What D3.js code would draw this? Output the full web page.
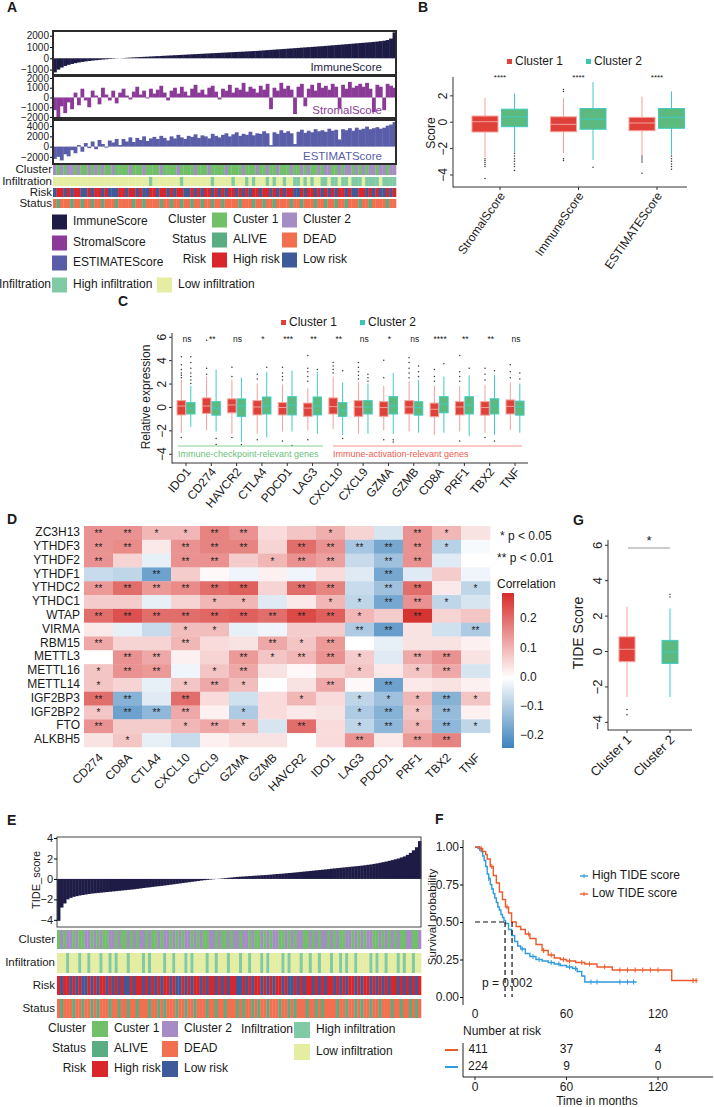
<!DOCTYPE html>
<html>
<head>
<meta charset="utf-8">
<script src="https://cdn.jsdelivr.net/npm/d3@7"></script>
<style>
  body { margin: 0; background: #fff; }
  svg text { font-family: "Liberation Sans", Arial, sans-serif; }
</style>
</head>
<body>
<svg id="fig" width="714" height="1107"></svg>
<script>
// ---------- A: samples ordered by ImmuneScore ----------
var immuneScore = [-1250,-1000,-820,-680,-580,-500,-430,-370,-320,-275,
  -235,-200,-168,-138,-110,-84,-60,-37,-15,5, 25,44,62,80,97,114,130,146,162,178,
  194,210,226,242,258,274,290,306,322,338, 354,370,386,402,418,434,450,466,482,498,
  514,530,546,562,578,594,610,626,642,658, 680,702,724,746,768,790,812,834,856,878,
  900,922,944,966,988,1010,1032,1054,1076,1100, 1125,1150,1175,1200,1225,1250,1275,1300,1325,1350,
  1375,1400,1425,1455,1485,1520,1560,1620,1750,2300];
var stromalScore = [-1300,-2000,-900,-1600,-500,-1200,500,-800,900,-300,
  -1000,700,200,-700,1000,300,-300,700,-600,500, 900,200,-200,600,1100,300,700,-100,900,400,
  800,1200,500,-300,700,1000,400,1100,600,200, 900,1300,500,800,300,1000,1200,600,-200,900,
  700,1300,500,1000,800,1500,600,1100,900,500, 1200,800,1400,-1200,1000,700,1500,900,1200,800,
  -1700,1100,1400,-900,900,1300,700,1500,1000,1200, 800,1400,1100,-1100,1300,900,1600,1000,1200,1400,
  1100,1500,900,-1500,1300,1100,-1300,1400,1200,1000];
var estimateScore = [-2400,-2000,-2700,-1500,-1900,-700,-1300,300,-1000,700,
  -300,1000,-500,1300,500,-200,1200,800,1500,300, 1500,1000,1800,900,1700,1300,2000,1100,1600,1900,
  1500,2100,1700,1200,2000,1600,2300,1800,1500,2100, 1900,2400,1700,2200,2000,1600,2500,2100,1800,2300,
  2600,2000,2400,2800,2100,2500,2300,2900,2200,2600, 2500,3000,2600,300,2800,2500,3200,2700,3000,2600,
  500,2900,3300,2700,3100,2800,3400,3000,3200,2900, 3500,3100,3300,1400,3400,3200,3600,3100,3700,3300,
  3500,3900,3400,3600,3800,3500,3700,4100,4300,4800];
var aCluster = ("21212212112121211211" + "11211121111211112111" + "12111211112111121112" +
  "11211211121121211212" + "21121221212122122122").split('');
var aInfil = ("llllllllllllllllllll" + "llllllllhllllllllhll" + "llllllhlllllhlllhlhl" +
  "llhlhllhllhhlhlhllhh" + "lhhlhhlhhhlhhhhlhhhh").split('');
var aRisk = ("lhhlhlhhllhlhhlhlllh" + "hlhhlhllhhlhhlhlhhll" + "hlhlhhlhlhlhhlhlhlhh" +
  "lhhlhlhlhhllhlhhlhlh" + "lhlhhlhllhhlhlhllhlh").split('');
var aStatus = ("dadddaddaddaddadddad" + "dddaddaddddaddaddadd" + "addaddaddaddddadddad" +
  "daddaddddaddadddadda" + "ddaddadddaddaddddadd").split('');

// ---------- B ----------
var bScores = ["StromalScore", "ImmuneScore", "ESTIMATEScore"];
// [low whisker, q1, median, q3, high whisker]
var bCluster1 = [[-2.67,-0.78,0,0.43,1.8], [-2.4,-0.76,-0.2,0.37,1.8], [-2.5,-0.68,-0.1,0.33,1.9]];
var bCluster2 = [[-2.3,-0.38,0.37,0.95,2.15], [-2.9,-0.57,0.2,1.0,3.0], [-2.5,-0.5,0.33,1.0,2.3]];
var bOut1 = [[-2.8,-2.95,-3.1,-3.25,-3.4,-4.3], [2.3,2.45,-2.8,-2.95], [-2.6,-2.75,-2.9,-3.05,-3.9]];
var bOut2 = [[-2.4,-2.6,-2.8,-3.0,-3.2,-3.4,-3.7], [-3.45], [-2.6,-2.8,-3.0,-3.2,-3.4,-3.6]];
var bSig = ["****", "****", "****"];

// ---------- C ----------
var cGenes = ["IDO1","CD274","HAVCR2","CTLA4","PDCD1","LAG3","CXCL10","CXCL9","GZMA","GZMB","CD8A","PRF1","TBX2","TNF"];
var cCluster1 = [[-2.2,-0.68,0.08,0.54,2.3],[-2.0,-0.55,0.08,0.77,2.6],[-2.3,-0.5,0.17,0.69,2.3],[-2.3,-0.68,0,0.54,2.0],
  [-2.1,-0.68,-0.05,0.37,1.9],[-2.0,-0.8,-0.1,0.33,1.6],[-1.9,-0.6,0.03,0.77,2.6],[-2.3,-0.8,0,0.54,2.1],
  [-2.0,-0.8,-0.05,0.45,1.8],[-2.1,-0.6,0,0.54,2.2],[-2.4,-0.83,-0.2,0.33,1.8],[-2.1,-0.68,0,0.45,1.8],
  [-2.2,-0.7,-0.05,0.45,1.9],[-2.0,-0.6,0.05,0.6,2.1]];
var cCluster2 = [[-1.7,-0.6,-0.1,0.37,1.8],[-2.1,-0.7,-0.1,0.45,3.2],[-3.0,-0.8,0.08,0.69,2.5],[-2.6,-0.6,0.08,0.85,3.0],
  [-2.1,-0.68,0.17,0.88,3.1],[-2.3,-0.68,0.08,0.85,3.0],[-2.4,-0.8,-0.3,0.37,2.1],[-2.3,-0.6,0,0.54,2.0],
  [-2.3,-0.6,0.08,0.88,2.9],[-2.2,-0.7,-0.05,0.45,2.3],[-2.2,-0.5,0.25,0.88,2.6],[-2.5,-0.6,0.17,0.88,2.7],
  [-2.4,-0.6,0.1,0.7,2.7],[-2.2,-0.7,0,0.5,2.0]];
var cOut1 = [[2.5,2.7,2.9,3.2,3.6,4.3,-2.6],[2.8,3.3,5.7],[2.6,3.4,-2.6],[2.4,2.8,-2.8],[2.3,2.6,2.9,3.4,-2.9],
  [2.2,2.6,3.0,3.3,4.4,-2.8],[2.9,3.2,3.5,3.8],[2.4,2.7,3.0,3.4,3.8],[2.5,4.0,-2.8],[2.5,2.9,3.3,3.8,4.2],
  [2.2,2.6,3.2],[2.2,2.6,3.0,4.4,-2.9],[2.3,2.8,3.3,-2.6],[2.5,3.0,3.6]];
var cOut2 = [[2.0,2.3,2.6,2.9,3.3,3.8,4.3],[-2.7,-3.2],[-3.2],[3.4],[-3.3],[3.2],[3.1,-2.7],[2.2,2.5,2.8],
  [-2.8,-3.0],[2.6,3.0,3.5],[3.7],[3.3],[3.1,-2.9],[2.4,2.9]];
var cSig = ["ns","**","ns","*","***","**","**","ns","*","ns","****","**","**","ns"];

// ---------- D ----------
var dRows = ["ZC3H13","YTHDF3","YTHDF2","YTHDF1","YTHDC2","YTHDC1","WTAP","VIRMA","RBM15","METTL3","METTL16","METTL14","IGF2BP3","IGF2BP2","FTO","ALKBH5"];
var dCols = ["CD274","CD8A","CTLA4","CXCL10","CXCL9","GZMA","GZMB","HAVCR2","IDO1","LAG3","PDCD1","PRF1","TBX2","TNF"];
var dCorr = [
  [0.15,0.15,0.1,0.1,0.17,0.15,0.05,0.08,0.11,0.06,-0.05,0.15,0.1,0.04],
  [0.15,0.16,0.03,0.15,0.17,0.17,0.06,0.2,0.15,-0.11,-0.17,0.15,-0.09,-0.01],
  [0.15,0.06,-0.03,0.15,0.15,0.07,0.1,0.15,0.13,-0.07,-0.12,0.15,-0.04,0],
  [-0.07,-0.08,-0.18,0.07,0.01,-0.02,0.02,-0.02,0.05,-0.04,-0.17,-0.04,0.07,-0.02],
  [0.14,0.2,0.14,0.16,0.2,0.22,0.06,0.2,0.17,-0.07,-0.12,0.2,0.03,-0.08],
  [0.07,0.07,-0.03,0.06,0.1,0.1,-0.04,0.03,0.1,-0.08,-0.17,0.15,-0.08,-0.05],
  [0.2,0.24,0.2,0.2,0.21,0.22,0.2,0.25,0.22,0.1,0.07,0.28,0.06,0.08],
  [0.03,-0.03,-0.07,0.09,0.09,-0.03,-0.02,0.07,0.07,-0.1,-0.19,0.04,-0.06,-0.1],
  [0.12,0.06,0.06,0.1,0.05,0.04,0.12,0.08,0.14,0,-0.03,0.04,0.04,0.02],
  [0,0.15,0.12,0.02,0.06,0.14,0.08,0.1,0.15,0.07,-0.04,0.12,0.15,0.04],
  [0.08,0.15,0.14,-0.02,0.08,0.12,0.04,0.01,0.06,0.08,0.03,0.08,0.12,-0.05],
  [0.08,0.06,-0.03,0.08,0.12,0.09,0,0.04,0.12,0.01,-0.18,0.03,0.04,0.02],
  [0.2,-0.15,-0.04,0.2,0.05,-0.06,0.05,0.1,0.05,-0.08,-0.12,0.1,-0.15,0.08],
  [0.08,-0.18,-0.14,0.12,0.02,-0.1,0.05,0.03,0.04,-0.1,-0.15,0.08,-0.13,0.02],
  [0.15,0.07,0.07,0.1,0.12,0.1,-0.05,0.2,0.05,-0.08,-0.14,0.1,-0.14,-0.08],
  [0.04,0.08,-0.03,-0.07,0.02,0.04,0.04,0,0.05,0.15,0.03,0.14,0.17,0]
];
var dStars = [
  ["**","**","*","*","**","**","","","*","","","**","*",""],
  ["**","**","","**","**","**","","**","**","**","**","**","*",""],
  ["**","","","**","**","","*","**","**","","**","**","",""],
  ["","","**","","","","","","","","**","","",""],
  ["**","**","**","**","**","**","","**","**","","**","**","","*"],
  ["","","","","*","*","","","*","*","**","**","*",""],
  ["**","**","**","**","**","**","**","**","**","*","","**","",""],
  ["","","","*","*","","","","","**","**","","","**"],
  ["**","","","**","","","**","*","**","","","","",""],
  ["","**","**","","","**","*","**","**","*","","**","**",""],
  ["*","**","**","","*","**","","","","*","","*","**",""],
  ["*","","","*","**","*","","","**","","**","","",""],
  ["**","**","","**","","","","*","","*","*","*","**","*"],
  ["*","**","**","**","","*","","","","*","**","*","**",""],
  ["**","","","*","**","*","","**","","*","**","*","**","*"],
  ["","*","","","","","","","","**","","**","**",""]
];

// ---------- E: samples ordered by TIDE score ----------
var tideScore = [-4.1,-2.8,-2.4,-2.0,-1.85,-1.75,-1.68,-1.62,-1.57,-1.52,
  -1.47,-1.43,-1.4,-1.37,-1.34,-1.31,-1.28,-1.25,-1.22,-1.19, -1.16,-1.13,-1.1,-1.07,-1.04,-1.01,-0.97,-0.93,-0.89,-0.85,
  -0.82,-0.78,-0.74,-0.71,-0.68,-0.64,-0.6,-0.56,-0.52,-0.48, -0.44,-0.4,-0.36,-0.32,-0.28,-0.24,-0.2,-0.16,-0.12,-0.09,
  -0.06,-0.03,-0.01,0.02,0.05,0.08,0.11,0.14,0.17,0.2, 0.22,0.24,0.26,0.28,0.3,0.32,0.34,0.36,0.38,0.4,
  0.42,0.45,0.48,0.5,0.52,0.55,0.58,0.6,0.63,0.66, 0.69,0.72,0.75,0.78,0.81,0.84,0.87,0.9,0.93,0.96,
  1.0,1.03,1.06,1.09,1.12,1.15,1.18,1.21,1.24,1.27, 1.3,1.34,1.38,1.42,1.47,1.52,1.58,1.64,1.7,1.77,
  1.84,1.92,2.0,2.1,2.2,2.35,2.55,2.8,3.1,3.7];
var eCluster = ("12122121122121211221" + "21121212212112122121" + "21221212112212112122" +
  "12212112121221121212" + "21121212212121122121" + "21221121212121122112").split('');
var eInfil = ("lllhlllhllhlllhllhlh" + "lllhllllhlhllllhllhl" + "llhlhllllhllhlllhlll" +
  "hllhlllhlhllllhlhlll" + "hllhllhlllhllhlhllhl" + "lllhlhllhlllhlhllhll").split('');
var eRisk = ("hlhhlhlhllhlhlhhlhlh" + "lhllhlhhlhlhlhlhhlhl" + "lhlhlhhlhlhhlhlhlhhl" +
  "lhlhlhhlhlhlhhlhllhl" + "hlhhlhlhlhhlhlhlhhlh" + "lhhlhlhlhlhhlhlhlhlh").split('');
var eStatus = ("dadddaddaddadadddadd" + "addaddadddaddadaddda" + "ddaddadddaddaddaddda" +
  "daddadaddadddaddadad" + "ddaddadaddddaddaddad" + "addaddadddaddaddadad").split('');

// ---------- F: Kaplan-Meier ----------
var highTime = [0,2,4,5,6,7,8,9,10,11,12,13,14,15,16,17,18,19,20,22,24,26,28,30,33,36,40,44,48,52,56,60,64,67,70,72,106];
var highSurv = [1,.99,.97,.94,.91,.87,.82,.79,.75,.72,.69,.66,.63,.6,.58,.55,.53,.51,.49,.45,.41,.37,.34,.32,.29,.27,.25,.24,.23,.22,.21,.2,.19,.17,.14,.1,.1];
var highCens = [3,9,31,38,42,50,55,62,66,76,80,95,100,104];
var lowTime = [0,3,5,7,8,10,12,14,16,18,20,22,24,27,30,33,36,40,44,48,52,56,60,66,72,80,90,129,146];
var lowSurv = [1,.99,.97,.95,.92,.87,.81,.76,.7,.65,.6,.56,.5,.47,.45,.42,.39,.35,.31,.28,.26,.25,.24,.23,.22,.2,.18,.11,.11];
var lowCens = [4,11,21,35,45,50,58,62,70,75,85,95,100,105,110,115,120,143,145];
var riskTimes = [0, 60, 120];
var riskLow = [411, 37, 4];
var riskHigh = [224, 9, 0];

// ---------- G ----------
var gGroups = ["Cluster 1", "Cluster 2"];
var gStats = [[-2.6,-0.6,0.1,0.8,2.5], [-2.6,-0.7,-0.05,0.6,2.4]];
var gOut = [[-3.3,-3.6], [3.05,3.2]];

// colours
var clusterCol = {"1": "#72BF6A", "2": "#A68CC4"};
var infilCol = {"h": "#80CBA5", "l": "#E5EDA3"};
var riskCol = {"h": "#D9262A", "l": "#3F5A99"};
var statusCol = {"a": "#5AAD83", "d": "#F2704F"};
var c1Fill = "#E0403A", c1Line = "#F5A09A", c2Fill = "#5CBA7E", c2Line = "#3FCBC3";

var svg = d3.select('#fig');
var intFmt = d3.format('d');

function addText(g, x, y, s, size, o) {
  o = o || {};
  var t = g.append('text')
    .attr('x', x).attr('y', y)
    .attr('font-size', size)
    .attr('fill', o.fill || '#1a1a1a')
    .attr('text-anchor', o.anchor || 'start')
    .attr('dominant-baseline', o.baseline || 'middle')
    .text(s);
  if (o.bold) t.attr('font-weight', 'bold');
  if (o.rotate) t.attr('transform', 'rotate(' + o.rotate + ',' + x + ',' + y + ')');
  return t;
}

function hline(g, x1, x2, y, col, w) {
  return g.append('line').attr('x1', x1).attr('x2', x2).attr('y1', y).attr('y2', y)
    .attr('stroke', col || '#222').attr('stroke-width', w || 1);
}
function vline(g, x, y1, y2, col, w) {
  return g.append('line').attr('x1', x).attr('x2', x).attr('y1', y1).attr('y2', y2)
    .attr('stroke', col || '#222').attr('stroke-width', w || 1);
}

function drawTrack(g, codes, x0, x1, y0, y1, cols) {
  var xs = d3.scaleBand().domain(d3.range(codes.length)).range([x0, x1]);
  g.selectAll(null).data(codes).enter().append('rect')
    .attr('x', function (d, i) { return xs(i); })
    .attr('y', y0)
    .attr('width', xs.bandwidth() + 0.3)
    .attr('height', y1 - y0)
    .attr('fill', function (d) { return cols[d]; });
}

function legendSq(g, x, yc, col, label, size) {
  size = size || 15;
  g.append('rect').attr('x', x).attr('y', yc - size / 2).attr('width', size).attr('height', size).attr('fill', col);
  addText(g, x + size + 6, yc, label, 12);
}

function drawBox(g, y, cx, w, st, outl, fill, line) {
  vline(g, cx, y(st[4]), y(st[0]), line, 1);
  g.append('rect').attr('x', cx - w / 2).attr('y', y(st[3]))
    .attr('width', w).attr('height', y(st[1]) - y(st[3]))
    .attr('fill', fill).attr('stroke', line).attr('stroke-width', 1);
  hline(g, cx - w / 2, cx + w / 2, y(st[2]), line, 1);
  g.selectAll(null).data(outl).enter().append('circle')
    .attr('cx', cx).attr('cy', function (d) { return y(d); })
    .attr('r', 0.75).attr('fill', '#333');
}

function rotatedYAxis(g, x, scale, ticks, size, fmt) {
  var ax = g.append('g').attr('transform', 'translate(' + x + ',0)')
    .call(d3.axisLeft(scale).tickValues(ticks).tickSize(3).tickFormat(fmt || null));
  ax.select('.domain').remove();
  ax.selectAll('line').attr('stroke', '#333');
  ax.selectAll('text').attr('x', null).attr('dy', null)
    .attr('text-anchor', 'middle')
    .attr('transform', 'translate(-6,0) rotate(-90)')
    .attr('font-size', size).attr('fill', '#222');
  return ax;
}

// panel letters
[["A", 7, 12], ["B", 418, 12], ["C", 118, 306], ["D", 7, 524], ["E", 7, 825], ["F", 435, 824], ["G", 573, 525]]
  .forEach(function (l) { addText(svg, l[1], l[2], l[0], 14, {bold: true, baseline: 'auto'}); });

// ================= Panel A =================
var gA = svg.append('g');
var aX = d3.scaleBand().domain(d3.range(immuneScore.length)).range([53, 396]);
var aPanels = [
  {vals: immuneScore, top: 31, bot: 75, dom: [-1480, 2420], ticks: [2000, 1000, 0, -1000], color: '#1E1B46', label: 'ImmuneScore', labY: 68},
  {vals: stromalScore, top: 76, bot: 118, dom: [-2100, 2200], ticks: [2000, 1000, 0, -1000, -2000], color: '#8B3A98', label: 'StromalScore', labY: 111},
  {vals: estimateScore, top: 120, bot: 164, dom: [-3400, 5200], ticks: [4000, 2000, 0, -2000], color: '#5A5DA8', label: 'ESTIMATScore', labY: 157}
];
aPanels.forEach(function (p) {
  var y = d3.scaleLinear().domain(p.dom).range([p.bot, p.top]);
  gA.append('g').selectAll('rect').data(p.vals).enter().append('rect')
    .attr('x', function (d, i) { return aX(i); })
    .attr('width', aX.bandwidth() + 0.4)
    .attr('y', function (d) { return y(Math.max(0, d)); })
    .attr('height', function (d) { return Math.abs(y(d) - y(0)); })
    .attr('fill', p.color);
  gA.append('rect').attr('x', 53).attr('y', p.top).attr('width', 343).attr('height', p.bot - p.top)
    .attr('fill', 'none').attr('stroke', '#2b2b2b').attr('stroke-width', 2);
  var ax = gA.append('g').attr('transform', 'translate(52,0)')
    .call(d3.axisLeft(y).tickValues(p.ticks).tickFormat(intFmt).tickSize(2).tickPadding(1));
  ax.select('.domain').remove();
  ax.selectAll('text').attr('font-size', 10).attr('fill', '#222');
  addText(gA, 382, p.labY, p.label, 11.5, {anchor: 'end', fill: p.color});
});
var aTracks = [
  ["Cluster", aCluster, 165, 175, clusterCol],
  ["Infiltration", aInfil, 177, 186, infilCol],
  ["Risk", aRisk, 188, 197, riskCol],
  ["Status", aStatus, 199, 208, statusCol]
];
aTracks.forEach(function (t) {
  drawTrack(gA, t[1], 53, 396, t[2], t[3], t[4]);
  addText(gA, 52, (t[2] + t[3]) / 2, t[0], 11.5, {anchor: 'end'});
});
legendSq(gA, 52, 222, '#1E1B46', 'ImmuneScore');
legendSq(gA, 52, 243, '#8B3A98', 'StromalScore');
legendSq(gA, 52, 263, '#5A5DA8', 'ESTIMATEScore');
addText(gA, 206, 220, 'Cluster', 12, {anchor: 'end'});
addText(gA, 206, 240, 'Status', 12, {anchor: 'end'});
addText(gA, 206, 260, 'Risk', 12, {anchor: 'end'});
legendSq(gA, 212, 220, clusterCol["1"], 'Custer 1');
legendSq(gA, 282, 220, clusterCol["2"], 'Cluster 2');
legendSq(gA, 212, 240, statusCol.a, 'ALIVE');
legendSq(gA, 282, 240, statusCol.d, 'DEAD');
legendSq(gA, 212, 260, riskCol.h, 'High risk');
legendSq(gA, 282, 260, riskCol.l, 'Low risk');
addText(gA, 51, 285, 'Infiltration', 12, {anchor: 'end'});
legendSq(gA, 52, 285, infilCol.h, 'High infiltration');
legendSq(gA, 157, 285, infilCol.l, 'Low infiltration');

// ================= Panel B =================
var gB = svg.append('g');
var bY = d3.scaleLinear().domain([-4.95, 3.39]).range([187, 77]);
var bX = d3.scalePoint().domain(bScores).range([500, 657]);
vline(gB, 453, 77, 187.5, '#333');
hline(gB, 453, 687, 187, '#333');
rotatedYAxis(gB, 453, bY, [-4, -2, 0, 2], 12);
addText(gB, 432, 133, 'Score', 12, {anchor: 'middle', rotate: -90});
bScores.forEach(function (s, i) {
  var cx = bX(s);
  drawBox(gB, bY, cx - 15, 26, bCluster1[i], bOut1[i], c1Fill, c1Line);
  drawBox(gB, bY, cx + 14.5, 26, bCluster2[i], bOut2[i], c2Fill, c2Line);
  addText(gB, cx, 78, bSig[i], 8, {anchor: 'middle'});
  vline(gB, cx, 187, 190, '#333');
  addText(gB, cx + 3, 194, s, 12, {anchor: 'end', rotate: -55});
});
gB.append('rect').attr('x', 507).attr('y', 59).attr('width', 5).attr('height', 5).attr('fill', c1Fill);
addText(gB, 515, 62, 'Cluster 1', 12);
gB.append('rect').attr('x', 586).attr('y', 59).attr('width', 5).attr('height', 5).attr('fill', '#3EC6B5');
addText(gB, 594, 62, 'Cluster 2', 12);

// ================= Panel C =================
var gC = svg.append('g');
var cY = d3.scaleLinear().domain([-4.79, 6.15]).range([463, 335]);
var cX = d3.scalePoint().domain(cGenes).range([186, 515]);
vline(gC, 172, 333, 463.5, '#333');
hline(gC, 172, 528, 463, '#333');
rotatedYAxis(gC, 172, cY, [-4, -2, 0, 2, 4, 6], 12);
addText(gC, 147, 397, 'Relative expression', 12, {anchor: 'middle', rotate: -90});
cGenes.forEach(function (gname, i) {
  var cx = cX(gname);
  drawBox(gC, cY, cx - 4.7, 8.5, cCluster1[i], cOut1[i], c1Fill, c1Line);
  drawBox(gC, cY, cx + 4.8, 8.5, cCluster2[i], cOut2[i], c2Fill, c2Line);
  addText(gC, cx + 1, 340, cSig[i], 8.5, {anchor: 'middle'});
  vline(gC, cx, 463, 466, '#333');
  addText(gC, cx + 3, 470, gname, 12, {anchor: 'end', rotate: -50});
});
hline(gC, 178, 323, 446, '#86CF92', 1);
addText(gC, 178, 455, 'Immune-checkpoint-relevant genes', 9, {fill: '#6CC27B'});
hline(gC, 333, 522, 446, '#F2958C', 1);
addText(gC, 333, 455, 'Immune-activation-relevant genes', 9, {fill: '#EC5B50'});
gC.append('rect').attr('x', 281).attr('y', 320).attr('width', 5).attr('height', 5).attr('fill', c1Fill);
addText(gC, 289, 323, 'Cluster 1', 12);
gC.append('rect').attr('x', 360).attr('y', 320).attr('width', 5).attr('height', 5).attr('fill', '#3EC6B5');
addText(gC, 368, 323, 'Cluster 2', 12);

// ================= Panel D =================
var gD = svg.append('g');
var dX = d3.scaleBand().domain(dCols).range([84, 490]);
var dY = d3.scaleBand().domain(dRows).range([526, 747]);
var dColor = d3.scaleLinear().domain([-0.24, 0, 0.29]).range(['#3E83BD', '#ffffff', '#D52D2A']);
dRows.forEach(function (r, i) {
  gD.selectAll(null).data(dCorr[i]).enter().append('rect')
    .attr('x', function (d, j) { return dX(dCols[j]); })
    .attr('y', dY(r))
    .attr('width', dX.bandwidth() + 0.3)
    .attr('height', dY.bandwidth() + 0.3)
    .attr('fill', function (d) { return dColor(d); });
  gD.selectAll(null).data(dStars[i]).enter().append('text')
    .attr('x', function (d, j) { return dX(dCols[j]) + dX.bandwidth() / 2; })
    .attr('y', dY(r) + dY.bandwidth() / 2 + 4)
    .attr('text-anchor', 'middle')
    .attr('font-size', 10)
    .attr('fill', '#222')
    .text(function (d) { return d; });
  addText(gD, 80, dY(r) + dY.bandwidth() / 2, r, 12, {anchor: 'end'});
});
dCols.forEach(function (c) {
  addText(gD, dX(c) + dX.bandwidth() / 2 + 3, 756, c, 12, {anchor: 'end', rotate: -45});
});
addText(gD, 500, 537, '* p < 0.05', 12);
addText(gD, 497, 559, '** p < 0.01', 12);
addText(gD, 497, 585, 'Correlation', 12);
var lY = d3.scaleLinear().domain([-0.24, 0.29]).range([748, 593]);
var grad = svg.append('defs').append('linearGradient').attr('id', 'corrGrad')
  .attr('x1', 0).attr('x2', 0).attr('y1', 1).attr('y2', 0);
[-0.24, 0, 0.29].forEach(function (v) {
  grad.append('stop').attr('offset', (v + 0.24) / 0.53).attr('stop-color', dColor(v));
});
gD.append('rect').attr('x', 502).attr('y', 593).attr('width', 12).attr('height', 155).attr('fill', 'url(#corrGrad)');
[0.2, 0.1, 0, -0.1, -0.2].forEach(function (v) {
  addText(gD, 520, lY(v), d3.format('.1f')(v), 12);
});

// ================= Panel G =================
var gG = svg.append('g');
var gY = d3.scaleLinear().domain([-4.46, 6.27]).range([730, 540]);
var gX = d3.scalePoint().domain(gGroups).range([627, 670]);
vline(gG, 608, 540, 730.5, '#333');
hline(gG, 608, 692, 730, '#333');
rotatedYAxis(gG, 608, gY, [-4, -2, 0, 2, 4, 6], 13);
addText(gG, 579, 633, 'TIDE Score', 14, {anchor: 'middle', rotate: -90});
gGroups.forEach(function (gname, i) {
  var cx = gX(gname);
  drawBox(gG, gY, cx, 16, gStats[i], gOut[i], i === 0 ? c1Fill : c2Fill, i === 0 ? c1Line : c2Line);
  vline(gG, cx, 730, 733, '#333');
  addText(gG, cx + 3, 738, gname, 13, {anchor: 'end', rotate: -45});
});
hline(gG, 628, 670, 548, '#999');
addText(gG, 649, 542, '*', 13, {anchor: 'middle'});

// ================= Panel E =================
var gE = svg.append('g');
var eX = d3.scaleBand().domain(d3.range(tideScore.length)).range([57, 421]);
var eY = d3.scaleLinear().domain([-4.7, 4.1]).range([927, 837]);
gE.selectAll(null).data(tideScore).enter().append('rect')
  .attr('x', function (d, i) { return eX(i); })
  .attr('width', eX.bandwidth() + 0.4)
  .attr('y', function (d) { return eY(Math.max(0, d)); })
  .attr('height', function (d) { return Math.abs(eY(d) - eY(0)); })
  .attr('fill', '#1E1B46');
gE.append('rect').attr('x', 57).attr('y', 837).attr('width', 364).attr('height', 90)
  .attr('fill', 'none').attr('stroke', '#444').attr('stroke-width', 1);
var eAx = gE.append('g').attr('transform', 'translate(57,0)')
  .call(d3.axisLeft(eY).tickValues([-4, -2, 0, 2, 4]).tickFormat(intFmt).tickSize(3).tickPadding(1));
eAx.select('.domain').remove();
eAx.selectAll('text').attr('font-size', 11).attr('fill', '#222');
addText(gE, 37, 880, 'TIDE_score', 11, {anchor: 'middle', rotate: -90});
var eTracks = [
  ["Cluster", eCluster, 930, 949, clusterCol],
  ["Infiltration", eInfil, 953, 973, infilCol],
  ["Risk", eRisk, 976, 995, riskCol],
  ["Status", eStatus, 999, 1018, statusCol]
];
eTracks.forEach(function (t) {
  drawTrack(gE, t[1], 57, 421, t[2], t[3], t[4]);
  addText(gE, 55, (t[2] + t[3]) / 2, t[0], 11.5, {anchor: 'end'});
});
addText(gE, 86, 1029, 'Cluster', 12, {anchor: 'end'});
addText(gE, 86, 1049, 'Status', 12, {anchor: 'end'});
addText(gE, 86, 1069, 'Risk', 12, {anchor: 'end'});
legendSq(gE, 92, 1029, clusterCol["1"], 'Custer 1', 16);
legendSq(gE, 162, 1029, clusterCol["2"], 'Cluster 2', 16);
legendSq(gE, 92, 1049, statusCol.a, 'ALIVE', 16);
legendSq(gE, 162, 1049, statusCol.d, 'DEAD', 16);
legendSq(gE, 92, 1069, riskCol.h, 'High risk', 16);
legendSq(gE, 162, 1069, riskCol.l, 'Low risk', 16);
addText(gE, 293, 1030, 'Infiltration', 12, {anchor: 'end'});
legendSq(gE, 294, 1030, infilCol.h, 'High infiltration', 16);
legendSq(gE, 294, 1052, infilCol.l, 'Low infiltration', 16);

// ================= Panel F =================
var gF = svg.append('g');
var fx = d3.scaleLinear().domain([0, 120]).range([475, 658]);
var fy = d3.scaleLinear().domain([0, 1]).range([997, 847]);
var blue = '#2E9BDD', orange = '#EF5A2A';
vline(gF, 463, 840, 1005, '#222');
var fAx = gF.append('g').attr('transform', 'translate(463,0)')
  .call(d3.axisLeft(fy).tickValues([0, 0.25, 0.5, 0.75, 1]).tickFormat(d3.format('.2f')).tickSize(3).tickPadding(1));
fAx.select('.domain').remove();
fAx.selectAll('text').attr('font-size', 12).attr('fill', '#222');
addText(gF, 433, 917, 'Survival probability', 11.5, {anchor: 'middle', rotate: -90});
riskTimes.forEach(function (t) { addText(gF, fx(t), 1015, t, 12, {anchor: 'middle'}); });

var km = d3.line().curve(d3.curveStepAfter)
  .x(function (d) { return fx(d[0]); }).y(function (d) { return fy(d[1]); });
function survAt(times, surv, t) {
  var s = surv[0];
  times.forEach(function (tt, i) { if (tt <= t) s = surv[i]; });
  return s;
}
[[highTime, highSurv, highCens, blue], [lowTime, lowSurv, lowCens, orange]].forEach(function (c) {
  gF.append('path').datum(d3.zip(c[0], c[1])).attr('d', km)
    .attr('fill', 'none').attr('stroke', c[3]).attr('stroke-width', 1.4);
  c[2].forEach(function (t) {
    var s = survAt(c[0], c[1], t);
    vline(gF, fx(t), fy(s) - 2.5, fy(s) + 2.5, c[3], 1);
  });
});
// median survival guides
var medHigh = 19.7, medLow = 24.3;
hline(gF, fx(0), fx(medHigh), fy(0.5), '#111', 1.2).attr('stroke-dasharray', '5,3');
vline(gF, fx(medHigh), fy(0.5), fy(0), '#111', 1.2).attr('stroke-dasharray', '5,3');
vline(gF, fx(medLow), fy(0.5), fy(0), '#111', 1.2).attr('stroke-dasharray', '5,3');
addText(gF, 482, 984, 'p = 0.002', 12);
// legend
hline(gF, 580, 588, 876, blue, 1.4); vline(gF, 584, 874, 878, blue, 1);
addText(gF, 592, 876, 'High TIDE score', 12);
hline(gF, 580, 588, 894, orange, 1.4); vline(gF, 584, 892, 896, orange, 1);
addText(gF, 592, 894, 'Low TIDE score', 12);
// number at risk table
addText(gF, 463, 1032, 'Number at risk', 12);
vline(gF, 463, 1043, 1077, '#222');
hline(gF, 463, 713, 1077, '#222');
hline(gF, 445, 458, 1050, orange, 2);
hline(gF, 445, 458, 1067, blue, 2);
riskTimes.forEach(function (t, i) {
  addText(gF, fx(t) + (i === 0 ? 3 : 0), 1050, riskLow[i], 12, {anchor: 'middle'});
  addText(gF, fx(t) + (i === 0 ? 3 : 0), 1067, riskHigh[i], 12, {anchor: 'middle'});
  vline(gF, fx(t), 1077, 1080, '#222');
  addText(gF, fx(t), 1088, t, 12, {anchor: 'middle'});
});
addText(gF, 597, 1102, 'Time in months', 12, {anchor: 'middle'});
</script>
</body>
</html>
